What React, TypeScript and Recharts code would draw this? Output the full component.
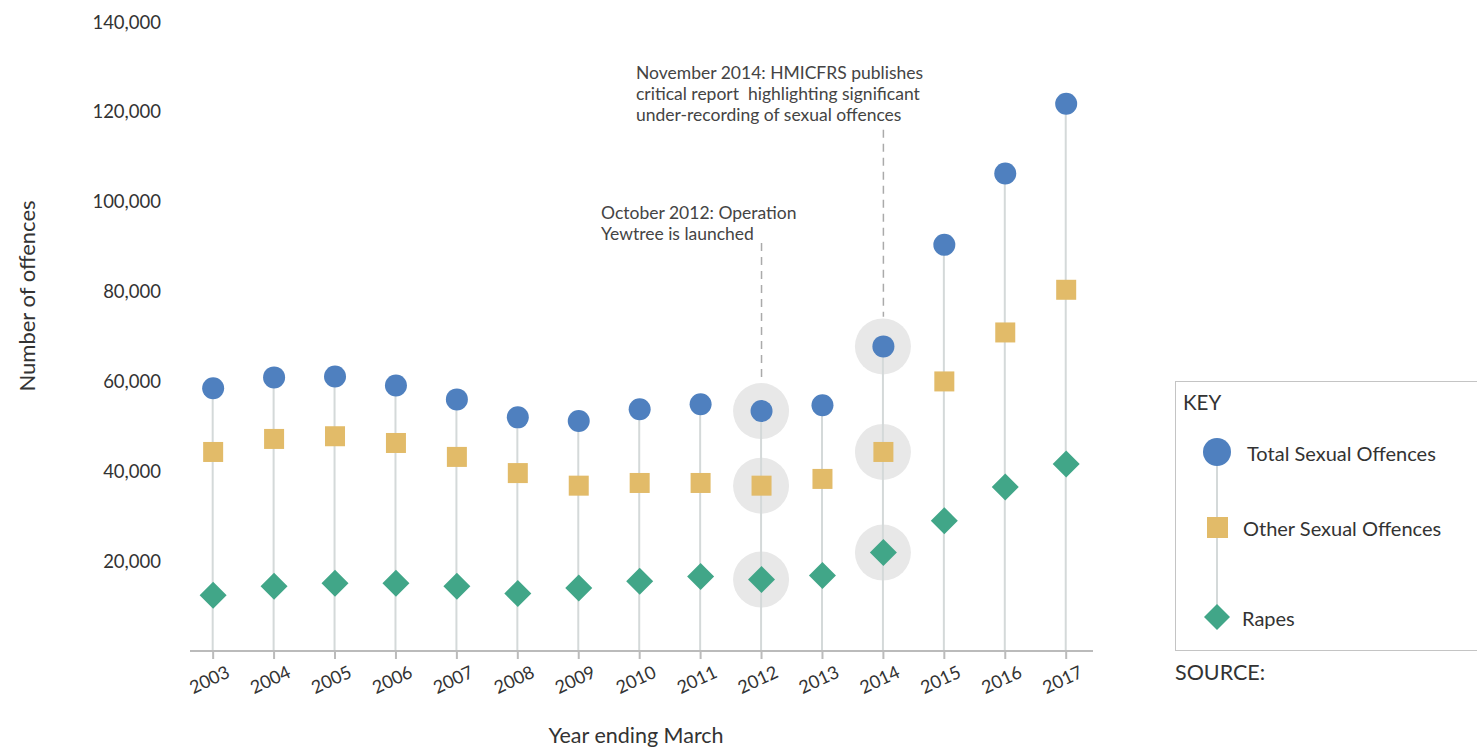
import { ComposedChart, Bar, Scatter, XAxis, YAxis, ReferenceLine } from "recharts";

const YEARS = [2003, 2004, 2005, 2006, 2007, 2008, 2009, 2010, 2011, 2012, 2013, 2014, 2015, 2016, 2017];
const TOTAL = [58500, 60900, 61100, 59100, 56000, 52000, 51200, 53800, 54900, 53400, 54700, 67800, 90400, 106300, 121800];
const OTHER = [44300, 47200, 47800, 46300, 43200, 39600, 36800, 37400, 37400, 36800, 38300, 44300, 60000, 70900, 80400];
const RAPES = [12400, 14400, 15100, 15100, 14400, 12800, 14000, 15500, 16600, 15900, 16800, 21900, 29000, 36500, 41600];
const Y_TICKS = [20000, 40000, 60000, 80000, 100000, 120000, 140000];
const HIGHLIGHT_YEARS = [2012, 2014];

const FONT = "Lato, sans-serif";
const BLUE = "#4f80bf";
const GOLD = "#e2bb69";
const GREEN = "#41a688";
const STEM = "#d4d9d9";
const HALO = "#e8e8e8";
const INK = "#333";

const data = YEARS.map((year, i) => ({
  year,
  total: TOTAL[i],
  other: OTHER[i],
  rapes: RAPES[i],
}));

// stem from the axis up to the top marker, with halos behind highlighted years
function Stem(props: any) {
  const { x, width, y, height, payload } = props;
  if (x == null || y == null) return null;
  const cx = x + width / 2;
  const bottom = y + height;
  const py = (v: number) => bottom - (height * v) / payload.total;
  const halo = HIGHLIGHT_YEARS.includes(payload.year);
  return (
    <g>
      {halo &&
        [payload.total, payload.other, payload.rapes].map((v: number, i: number) => (
          <circle key={i} cx={cx} cy={py(v)} r={28} fill={HALO} />
        ))}
      <line x1={cx} x2={cx} y1={y} y2={bottom} stroke={STEM} strokeWidth={2} />
    </g>
  );
}

const Dot = (p: any) => <circle cx={p.cx} cy={p.cy} r={11} fill={BLUE} />;
const Square = (p: any) => <rect x={p.cx - 10} y={p.cy - 10} width={20} height={20} fill={GOLD} />;
const Diamond = (p: any) => (
  <path
    d={`M${p.cx},${p.cy - 13.5}L${p.cx + 13.5},${p.cy}L${p.cx},${p.cy + 13.5}L${p.cx - 13.5},${p.cy}Z`}
    fill={GREEN}
  />
);

function YearTick(props: any) {
  const { x, payload } = props;
  const tx = x - 4;
  const ty = 679;
  return (
    <text
      x={tx}
      y={ty}
      textAnchor="middle"
      dominantBaseline="central"
      transform={`rotate(-25, ${tx}, ${ty})`}
      fontSize={18}
      fill={INK}
      fontFamily={FONT}
    >
      {payload.value}
    </text>
  );
}

function Key() {
  return (
    <svg width={317} height={330} style={{ position: "absolute", left: 1160, top: 370 }}>
      <rect x={15.5} y={11.5} width={320} height={269} fill="none" stroke="#c4c4c4" />
      <text x={23} y={32} dominantBaseline="central" fontSize={20.5} fill={INK} fontFamily={FONT}>
        KEY
      </text>
      <line x1={57} x2={57} y1={82} y2={247} stroke={STEM} strokeWidth={2} />
      <circle cx={57} cy={82} r={14} fill={BLUE} />
      <rect x={47} y={147} width={21} height={21} fill={GOLD} />
      <path d="M57,234L70,247L57,260L44,247Z" fill={GREEN} />
      <text x={87} y={83} dominantBaseline="central" fontSize={20} fill={INK} fontFamily={FONT}>
        Total Sexual Offences
      </text>
      <text x={83} y={158} dominantBaseline="central" fontSize={20} fill={INK} fontFamily={FONT}>
        Other Sexual Offences
      </text>
      <text x={82} y={248} dominantBaseline="central" fontSize={20} fill={INK} fontFamily={FONT}>
        Rapes
      </text>
      <text x={15} y={302} dominantBaseline="central" fontSize={21.5} fill={INK} fontFamily={FONT}>
        SOURCE:
      </text>
    </svg>
  );
}

const note: React.CSSProperties = {
  position: "absolute",
  fontFamily: FONT,
  fontSize: 17.5,
  lineHeight: "21px",
  color: "#444",
  whiteSpace: "nowrap",
};

export default function App() {
  return (
    <div style={{ position: "absolute", left: 0, top: 0, width: 1477, height: 748, background: "#fff", fontFamily: FONT }}>
      <ComposedChart
        width={1477}
        height={748}
        data={data}
        margin={{ top: 22, right: 384, bottom: 0, left: 0 }}
      >
        <XAxis
          dataKey="year"
          type="number"
          domain={[2002.62, 2017.44]}
          ticks={YEARS}
          interval={0}
          allowDataOverflow
          height={97}
          axisLine={{ stroke: "#bbbbbb", strokeWidth: 2 }}
          tickLine={{ stroke: "#bbbbbb", strokeWidth: 2 }}
          tickSize={8}
          tick={<YearTick />}
        />
        <YAxis
          type="number"
          domain={[0, 140000]}
          ticks={Y_TICKS}
          width={190}
          axisLine={false}
          tickLine={false}
          tickSize={6}
          tickMargin={23}
          tickFormatter={(v: number) => v.toLocaleString("en-US")}
          tick={{ fontSize: 18.5, fill: INK, fontFamily: FONT }}
        />
        <ReferenceLine
          segment={[{ x: 2012, y: 90800 }, { x: 2012, y: 60600 }]}
          stroke="#aaaaaa"
          strokeWidth={1.5}
          strokeDasharray="8 6"
        />
        <ReferenceLine
          segment={[{ x: 2014, y: 116000 }, { x: 2014, y: 74400 }]}
          stroke="#aaaaaa"
          strokeWidth={1.5}
          strokeDasharray="8 6"
        />
        <Bar dataKey="total" barSize={2} shape={<Stem />} isAnimationActive={false} />
        <Scatter dataKey="rapes" shape={<Diamond />} isAnimationActive={false} />
        <Scatter dataKey="other" shape={<Square />} isAnimationActive={false} />
        <Scatter dataKey="total" shape={<Dot />} isAnimationActive={false} />
      </ComposedChart>

      <div
        style={{
          position: "absolute",
          left: 26,
          top: 296,
          transform: "translate(-50%, -50%) rotate(-90deg)",
          fontSize: 22,
          color: INK,
          whiteSpace: "nowrap",
        }}
      >
        Number of offences
      </div>
      <div
        style={{
          position: "absolute",
          left: 636,
          top: 735,
          transform: "translate(-50%, -50%)",
          fontSize: 21.5,
          color: INK,
          whiteSpace: "nowrap",
        }}
      >
        Year ending March
      </div>

      <div style={{ ...note, left: 601, top: 202 }}>
        October 2012: Operation
        <br />
        Yewtree is launched
      </div>
      <div style={{ ...note, left: 636, top: 62 }}>
        November 2014: HMICFRS publishes
        <br />
        critical report&nbsp; highlighting significant
        <br />
        under-recording of sexual offences
      </div>

      <Key />
    </div>
  );
}
